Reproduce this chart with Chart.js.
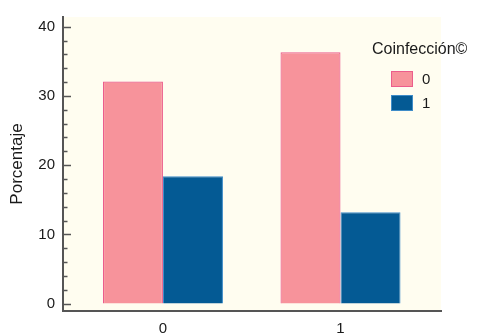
<!DOCTYPE html>
<html>
<head>
<meta charset="utf-8">
<script src="https://cdn.jsdelivr.net/npm/chart.js@4/dist/chart.umd.min.js"></script>
<style>
  html, body { margin: 0; padding: 0; background: #ffffff; }
  #wrap { width: 483px; height: 335px; }
</style>
</head>
<body>
<div id="wrap"><canvas id="c"></canvas></div>
<script>
// Categories on the x axis and the two Coinfección groups
const categories = [0, 1];
const seriesNames = ['0', '1'];
const values0 = [32.1, 36.3];
const values1 = [18.4, 13.2];
const yMajorTicks = [0, 10, 20, 30, 40];
const yMinorStep = 2;

const FONT = '"Liberation Sans", Arial, Helvetica, sans-serif';
const TEXT = '#1a1a1a';
const AXIS = '#555555';

// Cream plot background
const plotBackground = {
  id: 'plotBackground',
  beforeDraw(chart) {
    const { ctx, chartArea: a } = chart;
    ctx.save();
    ctx.fillStyle = '#fffdf0';
    ctx.fillRect(a.left, a.top, a.right - a.left, a.bottom - a.top);
    ctx.restore();
  }
};

// Inward tick marks on the y axis: long at labelled values, short in between
const innerTicks = {
  id: 'innerTicks',
  afterDraw(chart) {
    const { ctx, chartArea: a, scales: { y } } = chart;
    const lo = yMajorTicks[0], hi = yMajorTicks[yMajorTicks.length - 1];
    ctx.save();
    ctx.strokeStyle = AXIS;
    ctx.lineWidth = 1.5;
    for (let v = lo; v <= hi; v += yMinorStep) {
      const py = Math.round(y.getPixelForValue(v)) + 0.5;
      const len = yMajorTicks.includes(v) ? 8 : 4.5;
      ctx.beginPath();
      ctx.moveTo(a.left, py);
      ctx.lineTo(a.left + len, py);
      ctx.stroke();
    }
    ctx.restore();
  }
};

// Legend with title, drawn at the right of the plot
const sideLegend = {
  id: 'sideLegend',
  afterDraw(chart) {
    const { ctx } = chart;
    const x0 = chart.chartArea.right - 50;
    ctx.save();
    ctx.fillStyle = TEXT;
    ctx.font = '16px ' + FONT;
    ctx.textBaseline = 'middle';
    ctx.textAlign = 'left';
    ctx.fillText('Coinfección©', x0 - 19, 50);
    ctx.font = '15px ' + FONT;
    chart.data.datasets.forEach((ds, i) => {
      const top = 71 + i * 24;
      ctx.fillStyle = ds.backgroundColor;
      ctx.fillRect(x0, top, 22, 16);
      ctx.strokeStyle = ds.borderColor;
      ctx.lineWidth = 1;
      ctx.strokeRect(x0 + 0.5, top + 0.5, 21, 15);
      ctx.fillStyle = TEXT;
      ctx.fillText(ds.label, x0 + 31, top + 8.5);
    });
    ctx.restore();
  }
};

new Chart(document.getElementById('c'), {
  type: 'bar',
  data: {
    datasets: [
      {
        label: seriesNames[0],
        data: categories.map((c, i) => ({ x: c, y: values0[i] })),
        backgroundColor: '#f7939b',
        borderColor: '#ec5d8c',
        borderWidth: 1.2
      },
      {
        label: seriesNames[1],
        data: categories.map((c, i) => ({ x: c, y: values1[i] })),
        backgroundColor: '#045a94',
        borderColor: '#3f8cc8',
        borderWidth: 1
      }
    ]
  },
  options: {
    responsive: true,
    maintainAspectRatio: false,
    animation: false,
    categoryPercentage: 0.676,
    barPercentage: 1,
    layout: { padding: { top: 10, right: 42, left: 0, bottom: 0 } },
    plugins: {
      legend: { display: false },
      tooltip: { enabled: false }
    },
    scales: {
      x: {
        type: 'linear',
        offset: false,
        min: -0.563,
        max: 1.566,
        afterBuildTicks(scale) {
          scale.ticks = categories.map(v => ({ value: v }));
        },
        afterFit(scale) { scale.height = 24; },
        grid: { display: false, drawTicks: false },
        border: { display: true, color: AXIS, width: 2 },
        ticks: {
          padding: 9,
          color: TEXT,
          font: { family: FONT, size: 15 },
          callback: v => String(v)
        }
      },
      y: {
        min: -1.07,
        max: 41.41,
        afterBuildTicks(scale) {
          scale.ticks = yMajorTicks.map(v => ({ value: v }));
        },
        afterFit(scale) { scale.width = 63; },
        grid: { display: false, drawTicks: false },
        border: { display: true, color: AXIS, width: 2 },
        ticks: {
          padding: 8,
          color: TEXT,
          font: { family: FONT, size: 15 },
          callback: v => String(v)
        },
        title: {
          display: true,
          text: 'Porcentaje',
          color: TEXT,
          font: { family: FONT, size: 17 },
          padding: { top: 7, bottom: 0 }
        }
      }
    }
  },
  plugins: [plotBackground, innerTicks, sideLegend]
});
</script>
</body>
</html>
